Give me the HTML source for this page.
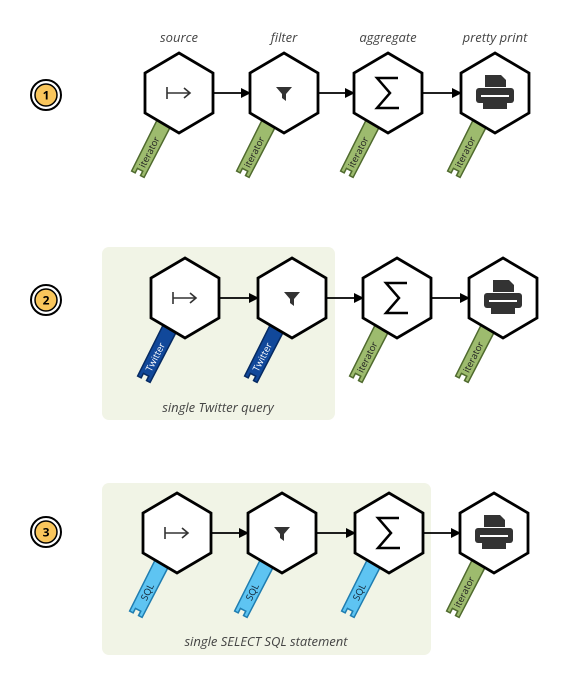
<!DOCTYPE html>
<html><head><meta charset="utf-8"><style>
html,body{margin:0;padding:0;background:#fff;width:569px;height:680px;overflow:hidden}
svg{display:block;font-family:"Open Sans","DejaVu Sans","Liberation Sans",sans-serif}
</style></head><body>
<svg id="s" width="569" height="680" viewBox="0 0 569 680" xmlns="http://www.w3.org/2000/svg">
<defs><marker id="ar" markerWidth="10" markerHeight="10" refX="9" refY="5" orient="auto" markerUnits="userSpaceOnUse"><path d="M0,0 L10,5 L0,10z" fill="#000"/></marker></defs>
<rect x="102" y="247" width="233" height="173" rx="7" fill="#f1f4e6"/>
<rect x="102" y="483" width="329" height="172" rx="7" fill="#f1f4e6"/>
<text x="218" y="412" font-size="13" font-style="italic" fill="#444" text-anchor="middle">single Twitter query</text>
<text x="266" y="646" font-size="13" font-style="italic" fill="#444" text-anchor="middle">single SELECT SQL statement</text>
<g id="g"></g>
</svg>
<script>
const rows=[{y:93,xs:[179,284,388,495],keys:['iterator','iterator','iterator','iterator'],badge:95},
{y:298,xs:[185,292,397,503],keys:['Twitter','Twitter','iterator','iterator'],badge:300},
{y:533,xs:[177,282,389,494],keys:['SQL','SQL','SQL','iterator'],badge:532}];
const titles=['source','filter','aggregate','pretty print'];
const kc={iterator:['#9dbb6e','#4f6a2e','#222'],Twitter:['#11489a','#062a62','#fff'],SQL:['#5ec4f2','#1f7db0','#123']};
const NS='http://www.w3.org/2000/svg';
const g=document.getElementById('g');
function el(t,a,p){const e=document.createElementNS(NS,t);for(const k in a)e.setAttribute(k,a[k]);(p||g).appendChild(e);return e;}
titles.forEach((t,i)=>{const e=el('text',{x:rows[0].xs[i],y:42,'font-size':13,'font-style':'italic',fill:'#444','text-anchor':'middle'});e.textContent=t;

});
rows.forEach((r,ri)=>{
 const bg=el('g',{});
 
 
 el('circle',{cx:46,cy:r.badge,r:15,fill:'#fff',stroke:'#000','stroke-width':2},bg);
 el('circle',{cx:46,cy:r.badge,r:11,fill:'#f9c65c',stroke:'#000','stroke-width':1.5},bg);
 const bt=el('text',{x:46,y:r.badge+4.5,'font-size':12,'font-weight':'bold','text-anchor':'middle',fill:'#000'},bg);bt.textContent=ri+1;
 r.xs.forEach((cx,i)=>{
  const cy=r.y;
  if(i<3){const a=el('line',{x1:cx+34,y1:cy,x2:r.xs[i+1]-34,y2:cy,stroke:'#000','stroke-width':1.8,'marker-end':'url(#ar)'});
   
   }
  const k=r.keys[i],c=kc[k];
  const kg=el('g',{transform:`translate(${cx-13},${cy+26}) rotate(27)`});
  
  
  el('path',{d:'M-7.5,0 L7.5,0 L7,62 L3,62 L3,57 L-3,57 L-3,62 L-7,62 Z',fill:c[0],stroke:c[1],'stroke-width':1.5},kg);
  const kt=el('text',{x:0,y:0,transform:'translate(3.5,37) rotate(-90)','font-size':9.5,fill:c[2],'text-anchor':'middle'},kg);kt.textContent=k;
  const hg=el('g',{});
  
  
  el('polygon',{points:`${cx},${cy-40} ${cx+34},${cy-20} ${cx+34},${cy+20} ${cx},${cy+40} ${cx-34},${cy+20} ${cx-34},${cy-20}`,fill:'#fff',stroke:'#000','stroke-width':2.8,'stroke-linejoin':'miter'},hg);
  if(i==0){el('path',{d:`M${cx-12},${cy-6} L${cx-12},${cy+6} M${cx-12},${cy} L${cx+11},${cy} M${cx+5},${cy-5} L${cx+11},${cy} L${cx+5},${cy+5}`,fill:'none',stroke:'#333','stroke-width':1.6},hg);}
  if(i==1){el('path',{d:`M${cx-8},${cy-6} L${cx+8},${cy-6} L${cx+2},${cy+1} L${cx+2},${cy+8} L${cx-2},${cy+5} L${cx-2},${cy+1} Z`,fill:'#333'},hg);}
  if(i==2){el('path',{d:`M${cx+10},${cy-15} L${cx-11},${cy-15} L${cx+2},${cy} L${cx-11},${cy+15} L${cx+11},${cy+15}`,fill:'none',stroke:'#000','stroke-width':2.5},hg);}
  if(i==3){el('path',{d:`M${cx-10},${cy-18} L${cx+6},${cy-18} L${cx+11},${cy-13} L${cx+11},${cy-6} L${cx-10},${cy-6} Z`,fill:'#333'},hg);
   el('rect',{x:cx-19,y:cy-5,width:38,height:15,rx:3,fill:'#333'},hg);
   el('rect',{x:cx-12,y:cy+4,width:24,height:12,fill:'#333'},hg);
   el('rect',{x:cx-14,y:cy+2,width:28,height:2,fill:'#fff'},hg);}
 });
});
</script>
</body></html>
